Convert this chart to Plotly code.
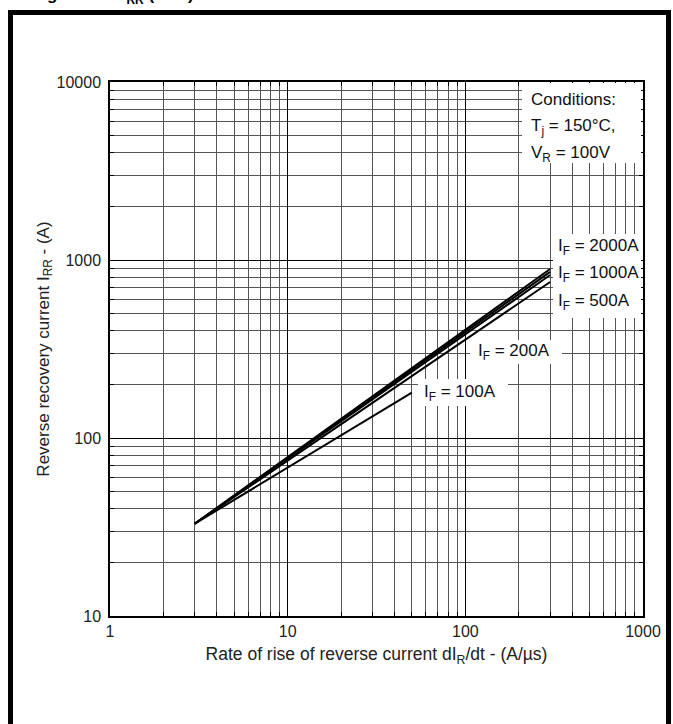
import plotly.graph_objects as go

# ---- data ----
didt = [3, 300]                 # dIR/dt (A/us) for IF = 200..2000 A
irr_2000 = [33, 890]
irr_1000 = [33, 857]
irr_500 = [33, 824]
irr_200 = [33, 752]
didt_100 = [3, 50]
irr_100 = [33, 180]

x_ticks = [1, 10, 100, 1000]
x_tick_text = ["1", "10", "100", "1000"]
y_ticks = [10, 100, 1000, 10000]
y_tick_text = ["10", "100", "1000", "10000"]
x_range_log = [0, 3]            # 1 .. 1000
y_range_log = [1, 4]            # 10 .. 10000

FONT = "Liberation Sans, Arial, sans-serif"
W, H = 673, 724
L, R, T, B = 110, 643, 82, 616   # plot area in page pixels


def px(p):
    return (p - L) / (R - L)


def py(p):
    return (B - p) / (B - T)


fig = go.Figure()
series = [
    (didt, irr_2000, "IF = 2000A"),
    (didt, irr_1000, "IF = 1000A"),
    (didt, irr_500, "IF = 500A"),
    (didt, irr_200, "IF = 200A"),
    (didt_100, irr_100, "IF = 100A"),
]
for xs, ys, name in series:
    fig.add_trace(go.Scatter(x=xs, y=ys, mode="lines", name=name,
                             line=dict(color="black", width=2)))

axis_common = dict(
    type="log",
    tickmode="array",
    showline=True, linecolor="black", linewidth=1.5, mirror="ticks",
    ticks="inside", ticklen=5, tickcolor="black",
    showgrid=True, gridcolor="black", gridwidth=1,
    minor=dict(dtick="D1", showgrid=True, gridcolor="#555555", gridwidth=1,
               ticks="inside", ticklen=4, tickcolor="black"),
    tickfont=dict(family=FONT, size=16, color="#222"),
    zeroline=False,
)

fig.update_xaxes(**axis_common, range=x_range_log, tickvals=x_ticks, ticktext=x_tick_text,
                 title=dict(text="Rate of rise of reverse current dI<sub>R</sub>/dt - (A/µs)",
                            font=dict(family=FONT, size=17.5, color="#222"), standoff=9))
fig.update_yaxes(**axis_common, range=y_range_log, tickvals=y_ticks, ticktext=y_tick_text,
                 ticklabelstandoff=4,
                 title=dict(text="Reverse recovery current I<sub>RR</sub> - (A)",
                            font=dict(family=FONT, size=17, color="#222"), standoff=3))

shapes = []
# white boxes behind labels (cover grid lines)
for x0, x1, y0, y1 in [(522, 641, 83, 163), (553, 641, 234, 318),
                       (470, 562, 340, 364), (418, 508, 379, 406)]:
    shapes.append(dict(type="rect", xref="paper", yref="paper",
                       x0=px(x0), x1=px(x1), y0=py(y1), y1=py(y0),
                       fillcolor="white", line=dict(width=0), layer="above"))
# outer frame
shapes.append(dict(type="rect", xref="paper", yref="paper",
                   x0=px(10.5), x1=px(668.5), y0=py(760), y1=py(12.5),
                   line=dict(color="black", width=5), fillcolor="rgba(0,0,0,0)",
                   layer="above"))
fig.update_layout(shapes=shapes)

ann = []


def label(text, x, y, size=17):
    ann.append(dict(text=text, xref="paper", yref="paper", x=px(x), y=py(y),
                    xanchor="left", yanchor="middle", showarrow=False,
                    font=dict(family=FONT, size=size, color="#111")))


label("Conditions:", 529, 100)
label("T<sub>j</sub> = 150°C,", 529, 127)
label("V<sub>R</sub> = 100V", 529, 154)
label("I<sub>F</sub> = 2000A", 556, 247)
label("I<sub>F</sub> = 1000A", 556, 274)
label("I<sub>F</sub> = 500A", 556, 302)
label("I<sub>F</sub> = 200A", 476, 352)
label("I<sub>F</sub> = 100A", 422, 393)

# cut-off figure caption at very top
ann.append(dict(text="<b>Figure 11 - I<sub>RR</sub> (max) v. dI/dt characteristics</b>",
                xref="paper", yref="paper", x=px(30), y=py(9),
                xanchor="left", yanchor="bottom", showarrow=False,
                font=dict(family=FONT, size=17, color="black")))

fig.update_layout(
    annotations=ann,
    width=W, height=H,
    margin=dict(l=L, r=W - R, t=T, b=H - B, pad=0),
    paper_bgcolor="white", plot_bgcolor="white",
    showlegend=False,
    font=dict(family=FONT),
)

fig.write_html("out.html", config={"displayModeBar": False},
               post_script="document.body.style.margin='0';document.body.style.overflow='hidden';")
